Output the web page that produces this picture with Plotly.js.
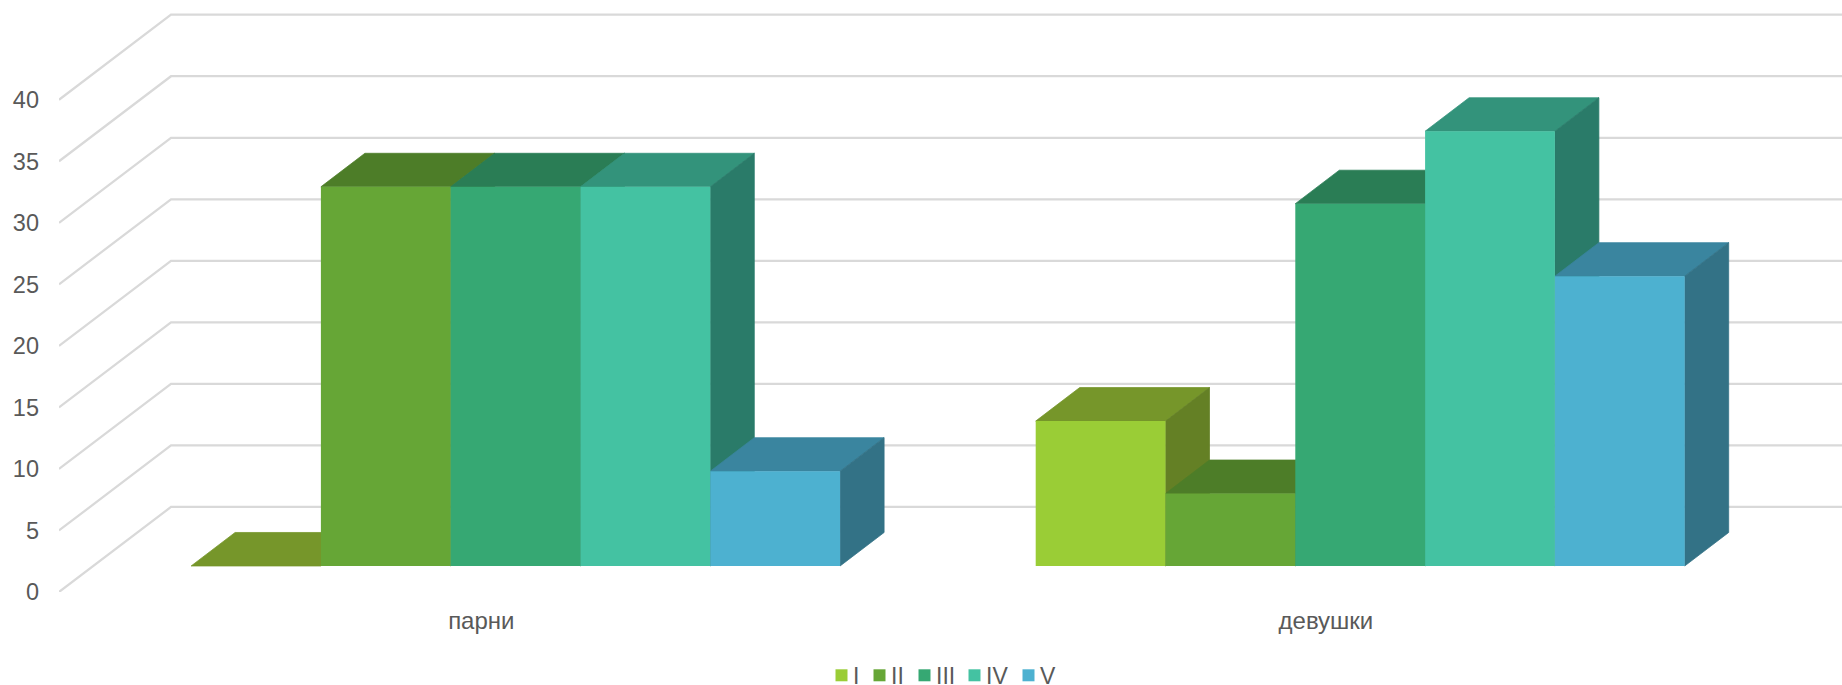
<!DOCTYPE html>
<html>
<head>
<meta charset="utf-8">
<script src="https://cdn.plot.ly/plotly-3.0.1.min.js"></script>
<style>html,body{margin:0;padding:0;background:#fff;overflow:hidden}</style>
</head>
<body>
<div id="chart" style="width:1842px;height:685px"></div>
<script>
// ---- data ----
const categories = ['парни', 'девушки'];
const seriesNames = ['I', 'II', 'III', 'IV', 'V'];
const valuesI   = [0, 12];
const valuesII  = [31.4, 6];
const valuesIII = [31.4, 30];
const valuesIV  = [31.4, 36];
const valuesV   = [7.85, 24];
const tickValues = [0, 5, 10, 15, 20, 25, 30, 35, 40];

// ---- styles ----
const seriesValues = [valuesI, valuesII, valuesIII, valuesIV, valuesV];
const frontColors = ['#9ACD36', '#66A636', '#36A873', '#44C2A2', '#4DB1D0'];
const topColors   = ['#76962A', '#4D7D28', '#2A7D55', '#33937B', '#3A859F'];
const sideColors  = ['#648025', '#4D7D28', '#2A7D55', '#2A7B69', '#337286'];
const gridColor = '#D9D9D9', textColor = '#595959';
const fontFamily = '"Liberation Sans", Arial, sans-serif';

// ---- oblique projection, in axis units ----
const H = 685, W = 1842, L = 59, FLOOR_PX = 591.7, BASE_PX = 565.7;
const PX_Y = 12.07;          // px per value on the bars' front plane
const PX_WALL = 12.3;        // px per value on the wall
const PX_CAT = 844.6;        // px per category
const xRange = [-0.5, -0.5 + (W - L) / PX_CAT];
const yRange = [(BASE_PX - FLOOR_PX) / PX_Y, BASE_PX / PX_Y];
const lift = (BASE_PX - FLOOR_PX) / PX_Y;        // floor front edge relative to bar base
const wallDX = 112 / PX_CAT, wallDY = 85 / PX_Y; // full depth of the floor
const barDX = 44 / PX_CAT, barDY = 33.5 / PX_Y;  // depth of a bar
const shiftX = 34.3 / PX_CAT;                    // bars start part way back on the floor
const barW = 129.8 / PX_CAT;
const wallY = (v, depth) => v * PX_WALL / PX_Y + lift + depth * wallDY;
const barCenter = (c, s) => c + shiftX + (s - (seriesNames.length - 1) / 2) * barW;

const shapes = [];
tickValues.forEach(v => {
  const x0 = xRange[0];
  shapes.push({
    type: 'path', layer: 'between', xref: 'x', yref: 'y',
    path: `M${x0},${wallY(v, 0)} L${x0 + wallDX},${wallY(v, 1)} L${xRange[1]},${wallY(v, 1)}`,
    line: {color: gridColor, width: 2.25}
  });
});
const poly = pts => 'M' + pts.map(p => p[0] + ',' + p[1]).join(' L') + ' Z';
const edge = c => ({color: c, width: 0.75});
categories.forEach((cat, c) => {
  seriesNames.forEach((name, s) => {
    const v = seriesValues[s][c];
    const xl = barCenter(c, s) - barW / 2, xr = barCenter(c, s) + barW / 2;
    shapes.push({type: 'path', layer: 'between', xref: 'x', yref: 'y',
      path: poly([[xl, v], [xl + barDX, v + barDY], [xr + barDX, v + barDY], [xr, v]]),
      fillcolor: topColors[s], line: edge(topColors[s])});
    if (v > 0) shapes.push({type: 'path', layer: 'between', xref: 'x', yref: 'y',
      path: poly([[xr, v], [xr + barDX, v + barDY], [xr + barDX, barDY], [xr, 0]]),
      fillcolor: sideColors[s], line: edge(sideColors[s])});
  });
});

const traces = seriesNames.map((name, s) => ({
  type: 'bar', name: name,
  x: categories.map((_, c) => barCenter(c, s)),
  y: seriesValues[s],
  width: barW,
  marker: {color: frontColors[s], line: {width: 0}},
  hoverinfo: 'skip'
}));

const layout = {
  width: W, height: H,
  margin: {l: L, r: 0, t: 0, b: H - FLOOR_PX, pad: 0, autoexpand: false},
  paper_bgcolor: '#fff', plot_bgcolor: 'rgba(0,0,0,0)',
  barmode: 'overlay',
  font: {family: fontFamily, color: textColor, size: 22},
  xaxis: {
    range: xRange, tickmode: 'array', tickvals: categories.map((_, c) => c), ticktext: categories,
    showgrid: false, zeroline: false, showline: false, ticks: '', ticklabelstandoff: 12,
    tickfont: {family: fontFamily, color: textColor, size: 24}, fixedrange: true
  },
  yaxis: {
    range: yRange, tickmode: 'array',
    tickvals: tickValues.map(v => wallY(v, 0)), ticktext: tickValues.map(String),
    showgrid: false, zeroline: false, showline: false, ticks: '', ticklabelstandoff: 19,
    tickfont: {family: fontFamily, color: textColor, size: 23.5}, fixedrange: true
  },
  showlegend: true,
  legend: {
    orientation: 'h', x: 0, xanchor: 'left', y: (FLOOR_PX - 675) / FLOOR_PX, yanchor: 'middle',
    font: {family: fontFamily, color: textColor, size: 23}, bgcolor: 'rgba(0,0,0,0)',
    traceorder: 'normal'
  },
  shapes: shapes
};

Plotly.newPlot('chart', traces, layout, {displayModeBar: false, staticPlot: true}).then(() => {
  // tighten the legend to the compact Office-style spacing
  const swatchX = [835, 873, 918, 968, 1022];
  const legend = document.querySelector('.legend');
  const box = legend.getBoundingClientRect();
  legend.querySelectorAll('.traces').forEach((g, i) => {
    const m = /translate\(([^,]+),\s*([^)]+)\)/.exec(g.getAttribute('transform') || '');
    const y = m ? parseFloat(m[2]) : 0;
    const dx = swatchX[i] + 6.5 - box.left;      // swatch centre relative to legend
    g.setAttribute('transform', `translate(${dx - 20},${y})`);
    const t = g.querySelector('.legendtext');
    if (t) t.setAttribute('x', 31.5);
    g.querySelectorAll('.legendtoggle').forEach(r => r.setAttribute('width', 30));
  });
  const clip = legend.querySelector('.scrollbox');
  if (clip) clip.removeAttribute('clip-path');
  legend.removeAttribute('clip-path');
});
</script>
</body>
</html>
